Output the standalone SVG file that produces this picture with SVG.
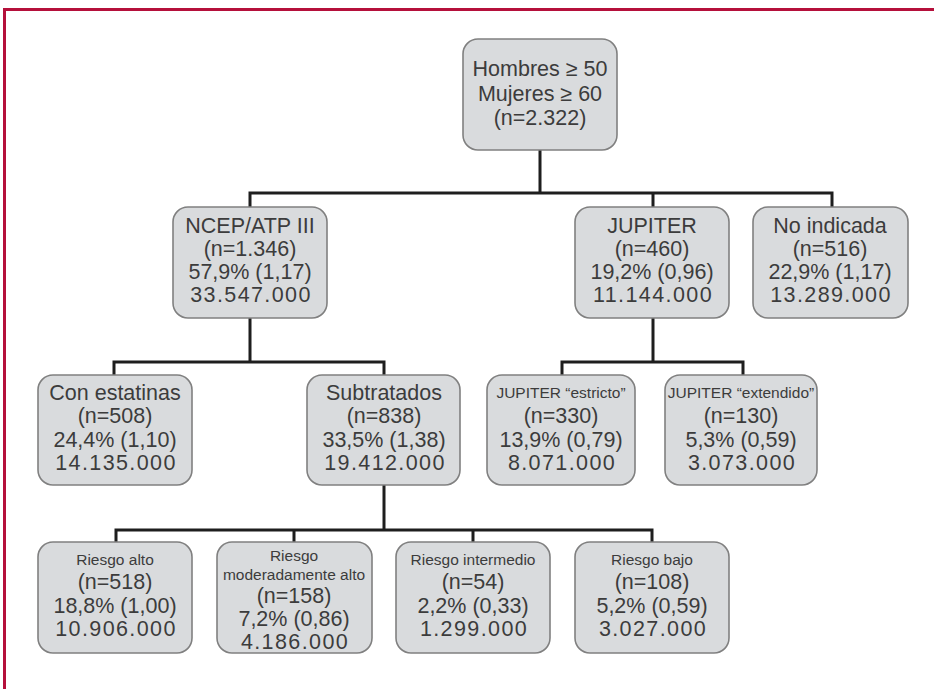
<svg xmlns="http://www.w3.org/2000/svg" width="934" height="689" viewBox="0 0 934 689">
<style>
.box{fill:#d9dbdd;stroke:#808080;stroke-width:1.6}
.t{font-family:"Liberation Sans",Arial,sans-serif;font-size:21.5px;fill:#3c3c3c;text-anchor:middle}
.s{font-size:15.5px}
.m{letter-spacing:1.4px}
.c{fill:none;stroke:#1e1e1e;stroke-width:3;stroke-linecap:square}
</style>
<rect width="934" height="689" fill="#ffffff"/>
<path d="M4.5 689 V9.5 H934" fill="none" stroke="#b5103b" stroke-width="3"/>
<g id="connectors">
<path class="c" d="M540 150 V193 M250 207 V193 H832 V207 M653 193 V207"/>
<path class="c" d="M250 318 V362 M114 375 V362 H384 V375"/>
<path class="c" d="M653 318 V362 M562 375 V362 H743 V375"/>
<path class="c" d="M384 485 V530 M116 542 V530 H652 V542 M294 530 V542 M473 530 V542"/>
</g>
<g id="n-root"><rect class="box" x="463" y="39" width="154" height="111" rx="15"/>
<text class="t" x="540" y="76">Hombres ≥ 50</text><text class="t" x="540" y="101">Mujeres ≥ 60</text><text class="t" x="540" y="125">(n=2.322)</text></g>
<g id="n-ncep"><rect class="box" x="173" y="207" width="154" height="111" rx="15"/>
<text class="t" x="250" y="233">NCEP/ATP III</text><text class="t" x="250" y="256">(n=1.346)</text><text class="t" x="250" y="279">57,9% (1,17)</text><text class="t m" x="251" y="302">33.547.000</text></g>
<g id="n-jupiter"><rect class="box" x="575" y="207" width="154" height="111" rx="15"/>
<text class="t" x="652" y="233">JUPITER</text><text class="t" x="652" y="256">(n=460)</text><text class="t" x="652" y="279">19,2% (0,96)</text><text class="t m" x="653" y="302">11.144.000</text></g>
<g id="n-noind"><rect class="box" x="753" y="207" width="155" height="111" rx="15"/>
<text class="t" x="830" y="233">No indicada</text><text class="t" x="830" y="256">(n=516)</text><text class="t" x="830" y="279">22,9% (1,17)</text><text class="t m" x="831" y="302">13.289.000</text></g>
<g id="n-conest"><rect class="box" x="38" y="375" width="154" height="110" rx="15"/>
<text class="t" x="115" y="400">Con estatinas</text><text class="t" x="115" y="423">(n=508)</text><text class="t" x="115" y="447">24,4% (1,10)</text><text class="t m" x="116" y="470">14.135.000</text></g>
<g id="n-subtrat"><rect class="box" x="307" y="375" width="153" height="110" rx="15"/>
<text class="t" x="384" y="400">Subtratados</text><text class="t" x="384" y="423">(n=838)</text><text class="t" x="384" y="447">33,5% (1,38)</text><text class="t m" x="385" y="470">19.412.000</text></g>
<g id="n-estricto"><rect class="box" x="487" y="375" width="148" height="110" rx="15"/>
<text class="t s" x="561" y="398">JUPITER “estricto”</text><text class="t" x="561" y="423">(n=330)</text><text class="t" x="561" y="447">13,9% (0,79)</text><text class="t m" x="562" y="470">8.071.000</text></g>
<g id="n-extendido"><rect class="box" x="665" y="375" width="152" height="110" rx="15"/>
<text class="t s" x="741" y="398">JUPITER “extendido”</text><text class="t" x="741" y="423">(n=130)</text><text class="t" x="741" y="447">5,3% (0,59)</text><text class="t m" x="742" y="470">3.073.000</text></g>
<g id="n-ralto"><rect class="box" x="38" y="542" width="154" height="111" rx="15"/>
<text class="t s" x="115" y="565">Riesgo alto</text><text class="t" x="115" y="589">(n=518)</text><text class="t" x="115" y="613">18,8% (1,00)</text><text class="t m" x="116" y="636">10.906.000</text></g>
<g id="n-rmod"><rect class="box" x="217" y="542" width="155" height="111" rx="15"/>
<text class="t s" x="294" y="561">Riesgo</text><text class="t s" x="294" y="580">moderadamente alto</text><text class="t" x="294" y="603">(n=158)</text><text class="t" x="294" y="626">7,2% (0,86)</text><text class="t m" x="295" y="649">4.186.000</text></g>
<g id="n-rint"><rect class="box" x="396" y="542" width="154" height="111" rx="15"/>
<text class="t s" x="473" y="565">Riesgo intermedio</text><text class="t" x="473" y="589">(n=54)</text><text class="t" x="473" y="613">2,2% (0,33)</text><text class="t m" x="474" y="636">1.299.000</text></g>
<g id="n-rbajo"><rect class="box" x="575" y="542" width="154" height="111" rx="15"/>
<text class="t s" x="652" y="565">Riesgo bajo</text><text class="t" x="652" y="589">(n=108)</text><text class="t" x="652" y="613">5,2% (0,59)</text><text class="t m" x="653" y="636">3.027.000</text></g>
</svg>
